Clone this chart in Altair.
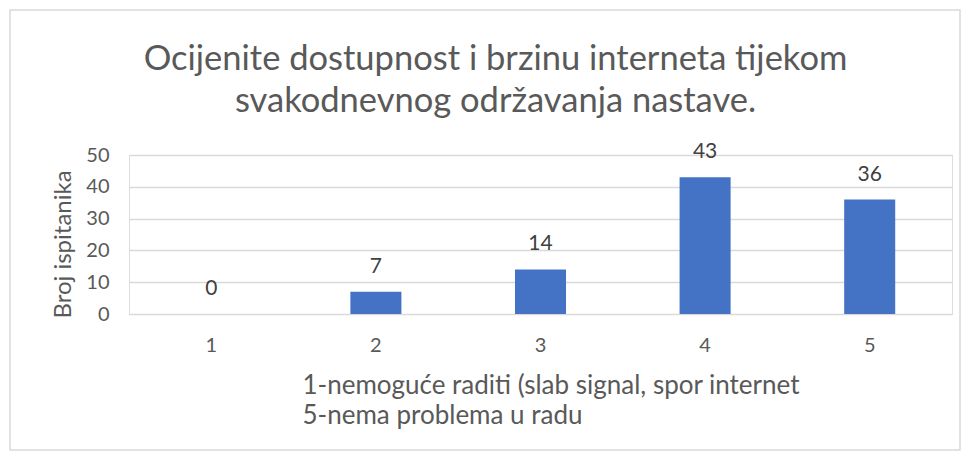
import altair as alt
import pandas as pd

categories = ["1", "2", "3", "4", "5"]
values = [0, 7, 14, 43, 36]

title_lines = ["Ocijenite dostupnost i brzinu interneta tijekom",
               "svakodnevnog održavanja nastave."]
x_title_lines = ["1-nemoguće raditi (slab signal, spor internet",
                 "5-nema problema u radu"]
y_title = "Broj ispitanika"

df = pd.DataFrame({"ocjena": categories, "broj": values})

FONT = "Lato"
GRAY = "#595959"

x_enc = alt.X("ocjena:N", sort=categories,
              scale=alt.Scale(paddingInner=0.69, paddingOuter=0.345),
              axis=alt.Axis(labelAngle=0, labelFontSize=20, labelColor=GRAY,
                            labelFont=FONT, labelPadding=21, ticks=False,
                            domain=True, domainColor="#d9d9d9", domainWidth=1,
                            title=x_title_lines, titleFont=FONT, titleFontSize=26,
                            titleFontWeight="normal", titleColor=GRAY,
                            titleAlign="left", titleAnchor="start", titleX=173,
                            titleY=58, titleBaseline="top", titleLineHeight=30))
y_enc = alt.Y("broj:Q", scale=alt.Scale(domain=[0, 50], nice=False),
              axis=alt.Axis(values=[0, 10, 20, 30, 40, 50], labelFontSize=20,
                            labelColor=GRAY, labelFont=FONT, labelPadding=20,
                            labelOverlap=False,
                            ticks=False, domain=False, gridColor="#d9d9d9",
                            gridWidth=1.5,
                            title=y_title, titleFont=FONT, titleFontSize=24,
                            titleFontWeight="normal", titleColor=GRAY,
                            titleY=89, titleX=-66, titleAngle=270,
                            titleAlign="center", titleBaseline="middle"))

base = alt.Chart(df)

bars = base.mark_bar(color="#4472C4").encode(x=x_enc, y=y_enc)

labels = base.mark_text(fontSize=21, color="#404040", font=FONT,
                        baseline="middle", dy=-25).encode(
    x=x_enc, y=y_enc, text=alt.Text("broj:Q"),
)

frame = alt.Chart(pd.DataFrame({"f": [0]})).mark_rect(
    fill=None, stroke="#d9d9d9", strokeWidth=1.5, clip=False
).encode(
    x=alt.value(-119), x2=alt.value(831), y=alt.value(-145), y2=alt.value(295)
)

chart = alt.layer(frame, bars, labels).properties(
    width=823, height=159,
    title=alt.TitleParams(title_lines, fontSize=34.5, font=FONT, color=GRAY,
                          fontWeight="normal", anchor="middle", frame="group",
                          dx=-45, dy=150, offset=40, lineHeight=42),
    autosize=alt.AutoSizeParams(type="none"),
    padding={"left": 121, "top": 147, "right": 11, "bottom": 140},
).configure_view(strokeWidth=0, stroke="transparent").configure(background="white")

chart.save("out.html", embed_options={"renderer": "svg", "actions": False})
